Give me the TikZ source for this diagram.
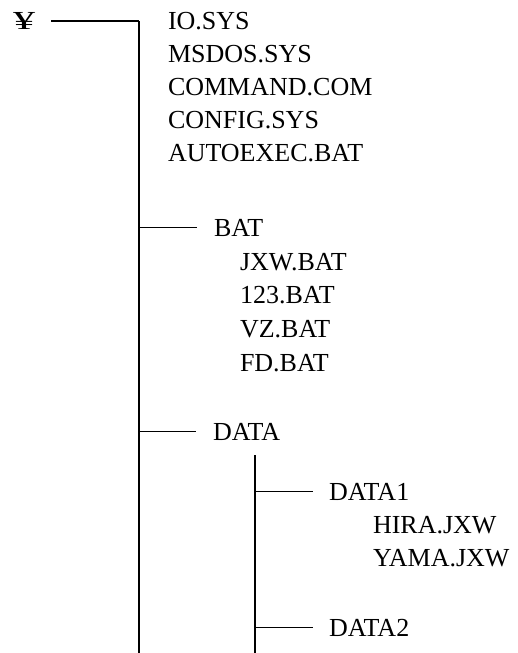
\documentclass[tikz,border=0pt]{standalone}
\usepackage{fontspec}
\setmainfont{Liberation Serif}
\usepackage{tikz}
\newcommand{\tf}{\fontsize{26}{33}\selectfont}
\newcommand{\yen}{\scalebox{1.7}[1]{¥}}

\begin{document}
\begin{tikzpicture}[x=1pt, y=-1pt, line width=1.6pt, every node/.style={inner sep=0pt, outer sep=0pt, font=\tf, anchor=base west}]
\useasboundingbox (0,0) rectangle (518,653);
% ---- root and main trunk
\node (root) at (13,29) {\yen};
\coordinate (trtop) at (139,21);
\coordinate (trbot) at (139,653);
\draw (trtop) -- (trbot);
\draw[shorten <=16pt] (root.east |- trtop) -- (trtop);
% ---- files in the root
\node (io) at (168,29) {IO.SYS};
\node (msdos) at (168,62) {MSDOS.SYS};
\node (command) at (168,95) {COMMAND.COM};
\node (config) at (168,128) {CONFIG.SYS};
\node (autoexec) at (168,161) {AUTOEXEC.BAT};
% ---- BAT directory
\node (bat) at (214,236) {BAT};
\draw (trtop |- bat.west) -- ([xshift=-17pt]bat.west);
\node (jxw) at (240,270) {JXW.BAT};
\node (b123) at (240,303) {123.BAT};
\node (vz) at (240,337) {VZ.BAT};
\node (fd) at (240,371) {FD.BAT};
% ---- DATA directory
\node (data) at (213,440) {DATA};
\draw (trtop |- data.west) -- ([xshift=-17pt]data.west);
\coordinate (subtop) at (255,455);
\coordinate (subbot) at (255,653);
\draw (subtop) -- (subbot);
% ---- DATA1 and DATA2
\node (data1) at (329,500) {DATA1};
\draw (subtop |- data1.west) -- ([xshift=-16pt]data1.west);
\node (hira) at (373,533) {HIRA.JXW};
\node (yama) at (373,566) {YAMA.JXW};
\node (data2) at (329,636) {DATA2};
\draw (subtop |- data2.west) -- ([xshift=-16pt]data2.west);
\end{tikzpicture}
\end{document}
